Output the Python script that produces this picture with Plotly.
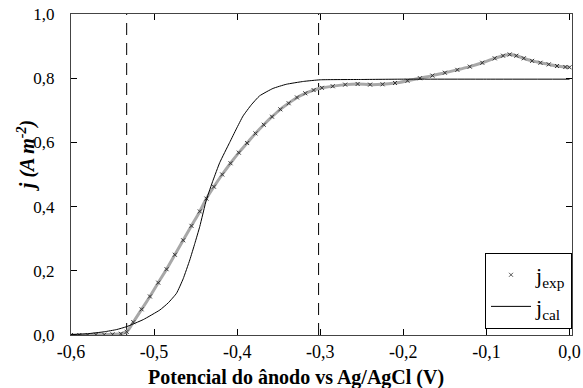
import plotly.graph_objects as go

exp_x = [-0.600, -0.590, -0.580, -0.570, -0.560, -0.550, -0.540, -0.533, -0.525, -0.515,
         -0.505, -0.495, -0.485, -0.475, -0.465, -0.455, -0.445, -0.437, -0.428, -0.418,
         -0.408, -0.398, -0.388, -0.378, -0.368, -0.358, -0.348, -0.338, -0.328, -0.318,
         -0.308, -0.298, -0.285, -0.270, -0.255, -0.240, -0.225, -0.210, -0.195, -0.180,
         -0.165, -0.150, -0.135, -0.120, -0.105, -0.090, -0.080, -0.072, -0.064, -0.055,
         -0.045, -0.035, -0.025, -0.015, -0.005, 0.000]
exp_j = [0.000, 0.000, 0.000, 0.001, 0.001, 0.002, 0.004, 0.010, 0.040, 0.080,
         0.120, 0.163, 0.205, 0.250, 0.295, 0.340, 0.385, 0.425, 0.462, 0.500,
         0.535, 0.568, 0.598, 0.628, 0.655, 0.680, 0.703, 0.722, 0.740, 0.753,
         0.763, 0.770, 0.775, 0.780, 0.782, 0.780, 0.781, 0.785, 0.792, 0.800,
         0.808, 0.817, 0.826, 0.836, 0.848, 0.862, 0.870, 0.874, 0.870, 0.862,
         0.854, 0.848, 0.843, 0.838, 0.835, 0.834]

# Calculated curve
cal_x = [-0.600, -0.580, -0.560, -0.545, -0.533, -0.513, -0.493, -0.483, -0.473, -0.465,
         -0.457, -0.451, -0.445, -0.437, -0.429, -0.421, -0.409, -0.401, -0.393, -0.383,
         -0.373, -0.357, -0.341, -0.320, -0.300, -0.250, -0.200, -0.100, 0.000]
cal_j = [0.001, 0.004, 0.010, 0.017, 0.026, 0.048, 0.078, 0.100, 0.130, 0.175,
         0.234, 0.285, 0.338, 0.422, 0.482, 0.537, 0.600, 0.642, 0.682, 0.717,
         0.745, 0.768, 0.781, 0.790, 0.795, 0.796, 0.797, 0.797, 0.797]

# Vertical dashed reference lines
vlines_x = [-0.533, -0.302]

x_ticks = [-0.6, -0.5, -0.4, -0.3, -0.2, -0.1, 0.0]
x_ticktext = ["-0,6", "-0,5", "-0,4", "-0,3", "-0,2", "-0,1", "0,0"]
y_ticks = [0.0, 0.2, 0.4, 0.6, 0.8, 1.0]
y_ticktext = ["0,0", "0,2", "0,4", "0,6", "0,8", "1,0"]

x_title = "Potencial do ânodo vs Ag/AgCl (V)"
y_title = "j (A m<sup>-2</sup>)"

SERIF = "Liberation Serif"

fig = go.Figure()

for vx in vlines_x:
    fig.add_trace(go.Scatter(x=[vx, vx], y=[0, 1.0], mode="lines",
                             line=dict(color="black", width=1, dash="12px,8px"),
                             showlegend=False, hoverinfo="skip"))

fig.add_trace(go.Scatter(x=exp_x, y=exp_j, mode="lines+markers",
                         line=dict(color="#a8a8a8", width=3, shape="spline"),
                         marker=dict(symbol="x-thin", size=4, line=dict(color="#333333", width=1)),
                         showlegend=False))
fig.add_trace(go.Scatter(x=cal_x, y=cal_j, mode="lines",
                         line=dict(color="black", width=1, shape="spline", smoothing=0.4),
                         showlegend=False))

# legend entries
fig.add_trace(go.Scatter(x=[None], y=[None], mode="markers", name="j<sub>exp</sub>",
                         marker=dict(symbol="x-thin", size=4, line=dict(color="#555555", width=1))))
fig.add_trace(go.Scatter(x=[None], y=[None], mode="lines", name="j<sub>cal</sub>",
                         line=dict(color="black", width=1)))

fig.update_layout(
    width=583, height=388,
    margin=dict(l=71, r=11, t=14, b=53, autoexpand=False),
    paper_bgcolor="white", plot_bgcolor="white",
    font=dict(family=SERIF, color="black", size=18),
    showlegend=True,
    legend=dict(x=1.0, xanchor="right", y=0.2555, yanchor="top",
                bordercolor="black", borderwidth=1, bgcolor="white",
                font=dict(family=SERIF, size=22), tracegroupgap=0, itemwidth=40),
    xaxis=dict(range=[-0.6, 0.003], tickvals=x_ticks, ticktext=x_ticktext,
               ticks="inside", ticklen=6, tickcolor="black", showgrid=False, zeroline=False,
               showline=True, linecolor="#444444", linewidth=1, mirror="ticks",
               automargin=False, ticklabelstandoff=0,
               tickfont=dict(family=SERIF, size=18)),
    yaxis=dict(range=[0, 1.0], tickvals=y_ticks, ticktext=y_ticktext,
               ticks="inside", ticklen=6, tickcolor="black", showgrid=False, zeroline=False,
               showline=True, linecolor="#444444", linewidth=1, mirror="ticks",
               automargin=False, ticklabelstandoff=12,
               tickfont=dict(family=SERIF, size=17)),
    annotations=[
        dict(text=x_title, xref="paper", yref="paper", x=0.449, y=-0.131,
             xanchor="center", yanchor="middle", showarrow=False,
             font=dict(family=SERIF, size=20, weight="bold")),
        dict(text=y_title, xref="paper", yref="paper", x=-0.09, y=0.56,
             xanchor="center", yanchor="middle", showarrow=False, textangle=-90,
             font=dict(family=SERIF, size=20, weight="bold", style="italic")),
    ],
)

fig.write_html("out.html", config={"displayModeBar": False},
               post_script="document.body.style.margin='0px';")
